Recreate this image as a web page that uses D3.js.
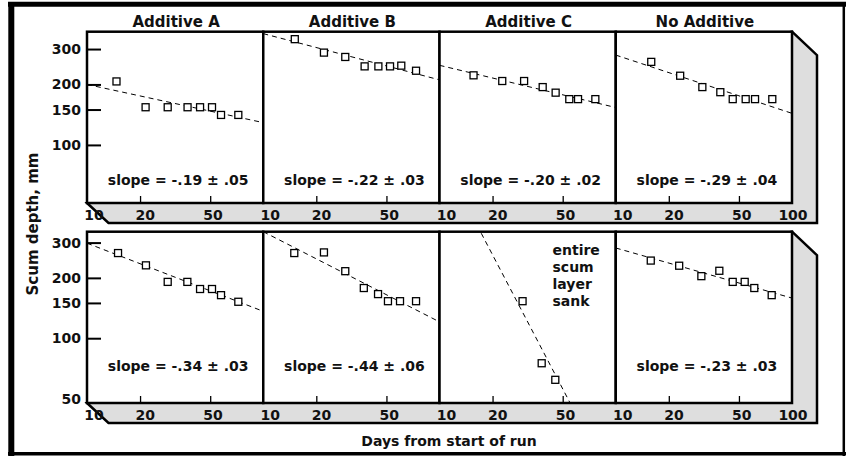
<!DOCTYPE html>
<html>
<head>
<meta charset="utf-8">
<script src="https://cdn.jsdelivr.net/npm/d3@7"></script>
<style>
body { margin: 0; background: #fff; }
svg text { font-family: 'DejaVu Sans', sans-serif; font-weight: bold; font-size: 14px; fill: #111; }
</style>
</head>
<body>
<svg width="846" height="456"></svg>
<script>
const columns = ['Additive A', 'Additive B', 'Additive C', 'No Additive']

// days from start of run, one array per panel (A, B, C, none)
const topDays = [
    [14.7, 21.5, 28.7, 37.2, 43.8, 51.2, 57.6, 72.2],
    [15.1, 22.1, 29.2, 37.6, 45.0, 52.4, 60.7, 73.6],
    [15.6, 22.7, 30.2, 38.5, 45.6, 54.5, 61.1, 76.6],
    [15.9, 23.2, 31.0, 39.2, 46.1, 54.6, 61.7, 77.3]
]
// scum depth, mm
const topDepth = [
    [207, 154, 154, 154, 154, 154, 141, 141],
    [336, 288, 274, 246, 246, 246, 248, 234],
    [222, 208, 208, 194, 182, 169, 169, 169],
    [259, 221, 194, 183, 169, 169, 169, 169]
]
const bottomDays = [
    [15.0, 21.6, 28.7, 37.1, 43.8, 51.2, 57.6, 72.2],
    [15.0, 22.1, 29.2, 37.2, 44.8, 51.0, 59.7, 73.6],
    [29.6, 38.0, 45.4],
    [15.8, 22.9, 30.6, 38.7, 46.1, 53.9, 61.1, 76.7]
]
const bottomDepth = [
    [266, 231, 191, 191, 176, 176, 164, 152],
    [266, 268, 216, 178, 166, 153, 153, 153],
    [153, 75, 62],
    [244, 230, 204, 217, 191, 191, 178, 164]
]

// fitted lines: depth at day 10 and log-log slope
const topFitAt10 = [200, 358, 249, 280]
const topFitSlope = [-0.19, -0.23, -0.21, -0.29]
const bottomFitAt10 = [298, 340, 835, 282]
const bottomFitSlope = [-0.34, -0.45, -1.68, -0.25]

const topSlopeLabels = ['-.19 \u00b1 .05', '-.22 \u00b1 .03', '-.20 \u00b1 .02', '-.29 \u00b1 .04']
const bottomSlopeLabels = ['-.34 \u00b1 .03', '-.44 \u00b1 .06', null, '-.23 \u00b1 .03']
const sankNote = ['entire', 'scum', 'layer', 'sank']

const topYTicks = [100, 150, 200, 300]
const bottomYTicks = [50, 100, 150, 200, 300]
const xTicks = [20, 50]
const xTickLabels = [10, 20, 50]

const svg = d3.select('svg')

const left = 87, right = 792
const col = d3.scaleBand().domain(columns).range([left, right])
const w = col.bandwidth()

const rowDefs = [
    { y: d3.scaleLog().domain([51.4, 366]).range([203, 31.7]), top: 31.7, bottom: 203,
      days: topDays, depth: topDepth, at10: topFitAt10, slope: topFitSlope,
      labels: topSlopeLabels, yTicks: topYTicks, slopeY: 185 },
    { y: d3.scaleLog().domain([47.5, 340]).range([403, 231.7]), top: 231.7, bottom: 403,
      days: bottomDays, depth: bottomDepth, at10: bottomFitAt10, slope: bottomFitSlope,
      labels: bottomSlopeLabels, yTicks: bottomYTicks, slopeY: 371 }
]

// outer frame, heavy on top / left
svg.append('line').attr('x1', 8).attr('x2', 846).attr('y1', 4.2).attr('y2', 4.2)
    .attr('stroke', '#000').attr('stroke-width', 5)
svg.append('line').attr('x1', 11.3).attr('x2', 11.3).attr('y1', 2).attr('y2', 456)
    .attr('stroke', '#000').attr('stroke-width', 6)
svg.append('line').attr('x1', 843.8).attr('x2', 843.8).attr('y1', 2).attr('y2', 456)
    .attr('stroke', '#000').attr('stroke-width', 2.5)
svg.append('line').attr('x1', 8).attr('x2', 846).attr('y1', 453.8).attr('y2', 453.8)
    .attr('stroke', '#000').attr('stroke-width', 3.5)

rowDefs.forEach((row, r) => {
    const g = svg.append('g')

    // 3-D floor and right wall behind the panels
    g.append('polygon')
        .attr('points', [
            [left, row.bottom], [left + 21.5, row.bottom + 20],
            [right + 25, row.bottom + 20], [right + 25, row.top + 23.5], [right, row.top]
        ].map(p => p.join(',')).join(' '))
        .attr('fill', '#dedede')
        .attr('stroke', '#000')
        .attr('stroke-width', 2.5)
        .attr('stroke-linejoin', 'miter')

    columns.forEach((c, i) => {
        const x0 = col(c)
        const x = d3.scaleLog().domain([10, 100]).range([x0, x0 + w])
        const p = g.append('g')
        const clipId = `clip-${r}-${i}`

        p.append('clipPath').attr('id', clipId)
            .append('rect')
            .attr('x', x0).attr('y', row.top)
            .attr('width', w).attr('height', row.bottom - row.top)

        p.append('rect')
            .attr('x', x0).attr('y', row.top)
            .attr('width', w).attr('height', row.bottom - row.top)
            .attr('fill', '#fff')

        // x ticks pointing up from the bottom edge
        p.append('g')
            .attr('transform', `translate(0, ${row.bottom})`)
            .call(d3.axisBottom(x).tickValues(xTicks).tickSizeInner(-7).tickSizeOuter(0).tickFormat(''))
            .call(a => a.select('.domain').remove())
            .selectAll('line').attr('stroke-width', 1.3)

        // fitted line
        const fit = [10, 100].map(d => [d, row.at10[i] * Math.pow(d / 10, row.slope[i])])
        p.append('path')
            .attr('clip-path', `url(#${clipId})`)
            .attr('d', d3.line().x(d => x(d[0])).y(d => row.y(d[1]))(fit))
            .attr('fill', 'none')
            .attr('stroke', '#000')
            .attr('stroke-width', 1)
            .attr('stroke-dasharray', '5,4')

        p.selectAll('rect.pt')
            .data(row.days[i].map((d, k) => ({ day: d, depth: row.depth[i][k] })))
            .enter()
            .append('rect')
            .attr('class', 'pt')
            .attr('x', d => x(d.day) - 3.5)
            .attr('y', d => row.y(d.depth) - 3.5)
            .attr('width', 7).attr('height', 7)
            .attr('fill', '#fff')
            .attr('stroke', '#000')
            .attr('stroke-width', 1.3)

        p.append('rect')
            .attr('x', x0).attr('y', row.top)
            .attr('width', w).attr('height', row.bottom - row.top)
            .attr('fill', 'none')
            .attr('stroke', '#000')
            .attr('stroke-width', 2.5)

        if (row.labels[i]) {
            p.append('text')
                .attr('x', x0 + w / 2 + 3)
                .attr('y', row.slopeY)
                .attr('text-anchor', 'middle')
                .text(`slope = ${row.labels[i]}`)
        }

        // tick labels sit on the floor
        const lab = d3.scaleLog().domain([10, 100]).range([x0 + 7, x0 + w + 1])
        const shown = i === columns.length - 1 ? xTickLabels.concat([100]) : xTickLabels
        g.selectAll(null)
            .data(shown)
            .enter()
            .append('text')
            .attr('x', d => lab(d))
            .attr('y', row.bottom + 16.5)
            .attr('text-anchor', 'middle')
            .text(d => d)

        if (r === 0) {
            svg.append('text')
                .attr('x', x0 + w / 2 + 1)
                .attr('y', 26.5)
                .attr('text-anchor', 'middle')
                .style('font-size', '15px')
                .text(c)
        }
    })

    // depth axis on the first column only
    g.append('g')
        .attr('transform', `translate(${left}, 0)`)
        .call(d3.axisLeft(row.y).tickValues(row.yTicks).tickSizeInner(-14).tickSizeOuter(0)
            .tickPadding(6).tickFormat(d3.format('d')))
        .call(a => a.select('.domain').remove())
        .call(a => a.selectAll('.tick').filter(d => d === 50).select('line').remove())
        .selectAll('line').attr('stroke-width', 2)
})

// note in the empty Additive C panel
const note = svg.append('text')
    .attr('x', col('Additive C') + 113)
    .attr('y', rowDefs[1].top + 23)
note.selectAll('tspan')
    .data(sankNote)
    .enter()
    .append('tspan')
    .attr('x', col('Additive C') + 113)
    .attr('dy', (d, k) => k === 0 ? 0 : 17.2)
    .text(d => d)

svg.append('text')
    .attr('transform', 'translate(37.5, 224) rotate(-90)')
    .attr('text-anchor', 'middle')
    .style('font-size', '15px')
    .text('Scum depth, mm')

svg.append('text')
    .attr('x', 449)
    .attr('y', 446)
    .attr('text-anchor', 'middle')
    .text('Days from start of run')
</script>
</body>
</html>
